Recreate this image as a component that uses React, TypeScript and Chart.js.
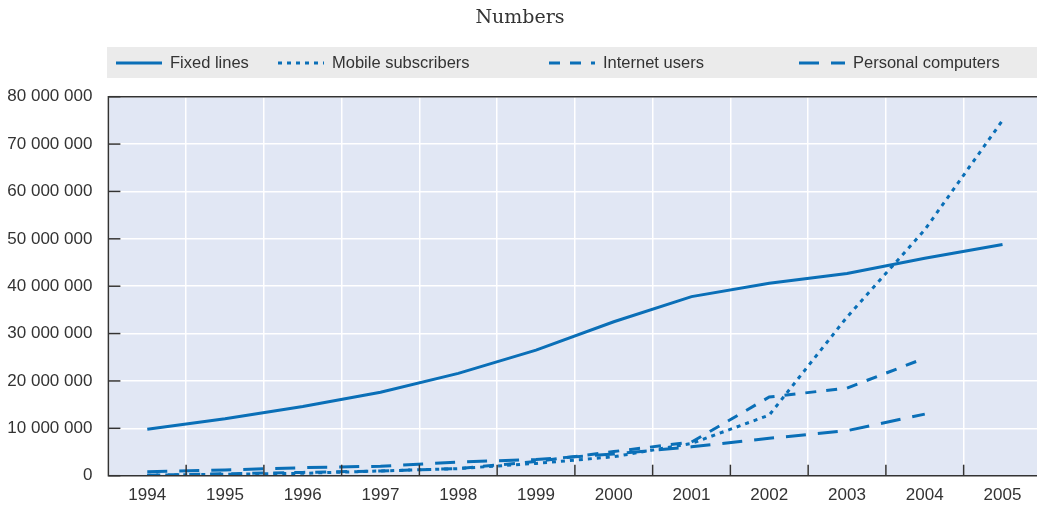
import { useEffect, useRef } from "react";
import { Chart, registerables } from "chart.js";

Chart.register(...registerables);

const years = ["1994", "1995", "1996", "1997", "1998", "1999", "2000", "2001", "2002", "2003", "2004", "2005"];
const fixedLines = [9.8e6, 12.0e6, 14.6e6, 17.6e6, 21.6e6, 26.5e6, 32.5e6, 37.8e6, 40.6e6, 42.7e6, 45.9e6, 48.8e6];
const mobileSubscribers = [0.1e6, 0.3e6, 0.5e6, 1.0e6, 1.5e6, 2.6e6, 4.0e6, 6.8e6, 12.8e6, 33.5e6, 51.9e6, 75.0e6];
const internetUsers = [0.1e6, 0.4e6, 0.7e6, 1.0e6, 1.5e6, 3.0e6, 5.1e6, 7.1e6, 16.6e6, 18.5e6, 24.8e6, null];
const personalComputers = [0.85e6, 1.2e6, 1.7e6, 2.0e6, 2.9e6, 3.4e6, 4.6e6, 6.1e6, 7.9e6, 9.5e6, 13.0e6, null];
const yTickValues = [0, 10e6, 20e6, 30e6, 40e6, 50e6, 60e6, 70e6, 80e6];
const titleText = "Numbers";
const seriesNames = ["Fixed lines", "Mobile subscribers", "Internet users", "Personal computers"];

const BLUE = "#0a6fb7";
const DARK = "#333333";
const AXIS_FONT = "'Liberation Sans', Arial, sans-serif";
const LEGEND_FONT = "'Liberation Sans', Arial, sans-serif";
const dashes: number[][] = [[], [4, 5], [11, 10], [20, 12]];

function fmt(v: number): string {
  return String(Math.round(v)).replace(/\B(?=(\d{3})+(?!\d))/g, " ");
}

const decorPlugin = {
  id: "decor",
  beforeDraw(chart: any) {
    const { ctx, chartArea } = chart;
    ctx.save();
    // title
    ctx.fillStyle = DARK;
    ctx.font = "19px 'DejaVu Serif', 'Liberation Serif', serif";
    ctx.textAlign = "center";
    ctx.textBaseline = "alphabetic";
    ctx.fillText(titleText, 520, 23);
    // legend box
    const lx = chartArea.left - 1.4;
    ctx.fillStyle = "#ebebeb";
    ctx.fillRect(lx, 47, chart.width - lx, 31);
    const starts = [116, 278, 549, 799];
    ctx.font = "16.5px " + LEGEND_FONT;
    ctx.textAlign = "left";
    seriesNames.forEach((name, i) => {
      const sx = starts[i];
      ctx.beginPath();
      ctx.setLineDash(dashes[i]);
      ctx.lineDashOffset = 0;
      ctx.strokeStyle = BLUE;
      ctx.lineWidth = 3;
      ctx.lineCap = "butt";
      ctx.moveTo(sx, 63);
      ctx.lineTo(sx + 46, 63);
      ctx.stroke();
      ctx.setLineDash([]);
      ctx.fillStyle = DARK;
      ctx.fillText(name, sx + 54, 67.5);
    });
    // plot background
    ctx.fillStyle = "#e1e7f4";
    ctx.fillRect(chartArea.left, chartArea.top, chartArea.right - chartArea.left, chartArea.bottom - chartArea.top);
    ctx.restore();
  },
  afterDraw(chart: any) {
    const { ctx, chartArea, scales } = chart;
    const xs = scales.x;
    const ys = scales.y;
    ctx.save();
    ctx.strokeStyle = DARK;
    ctx.lineWidth = 1.5;
    ctx.setLineDash([]);
    // y ticks inside
    yTickValues.forEach((v) => {
      const y = ys.getPixelForValue(v);
      ctx.beginPath();
      ctx.moveTo(chartArea.left, y);
      ctx.lineTo(chartArea.left + 12, y);
      ctx.stroke();
    });
    // x ticks at boundaries
    for (let i = 0; i < years.length - 1; i++) {
      const x = (xs.getPixelForValue(i) + xs.getPixelForValue(i + 1)) / 2;
      ctx.beginPath();
      ctx.moveTo(x, chartArea.bottom);
      ctx.lineTo(x, chartArea.bottom - 11);
      ctx.stroke();
    }
    // frame
    ctx.beginPath();
    ctx.rect(chartArea.left, chartArea.top, chartArea.right - chartArea.left, chartArea.bottom - chartArea.top);
    ctx.stroke();
    ctx.restore();
  },
};

export default function App() {
  const ref = useRef<HTMLCanvasElement>(null);
  useEffect(() => {
    const canvas = ref.current;
    if (!canvas) return;
    const series = [fixedLines, mobileSubscribers, internetUsers, personalComputers];
    const chart = new Chart(canvas, {
      type: "line",
      data: {
        labels: years,
        datasets: series.map((d, i) => ({
          label: seriesNames[i],
          data: d,
          borderColor: BLUE,
          backgroundColor: BLUE,
          borderWidth: 3,
          borderDash: dashes[i],
          borderCapStyle: "butt",
          pointRadius: 0,
          tension: 0,
          fill: false,
          spanGaps: false,
        })),
      } as any,
      options: {
        responsive: false,
        animation: false,
        devicePixelRatio: 1,
        layout: { padding: { top: 96.7, right: 3.6, left: 0, bottom: 0 } },
        plugins: {
          legend: { display: false },
          title: { display: false },
          tooltip: { enabled: false },
        },
        scales: {
          x: {
            type: "category",
            offset: true,
            grid: { offset: true, color: "#ffffff", lineWidth: 1.5, drawTicks: false },
            border: { display: false },
            ticks: {
              color: DARK,
              font: { family: AXIS_FONT, size: 17 },
              padding: 9,
              maxRotation: 0,
              autoSkip: false,
            },
            afterFit(s: any) {
              s.height = 30.3;
            },
          },
          y: {
            min: 0,
            max: 80e6,
            afterBuildTicks(s: any) {
              s.ticks = yTickValues.map((v) => ({ value: v }));
            },
            grid: { color: "#ffffff", lineWidth: 1.5, drawTicks: false },
            border: { display: false },
            ticks: {
              color: DARK,
              font: { family: AXIS_FONT, size: 17 },
              padding: 16,
              callback: (v: any) => fmt(Number(v)),
            },
            afterFit(s: any) {
              s.width = 108.4;
            },
          },
        },
      } as any,
      plugins: [decorPlugin],
    });
    return () => chart.destroy();
  }, []);
  return (
    <div style={{ position: "fixed", left: 0, top: 0, width: 1037, height: 506, overflow: "hidden", background: "#ffffff" }}>
      <canvas ref={ref} width={1045} height={506} style={{ display: "block", width: 1045, height: 506 }} />
    </div>
  );
}
